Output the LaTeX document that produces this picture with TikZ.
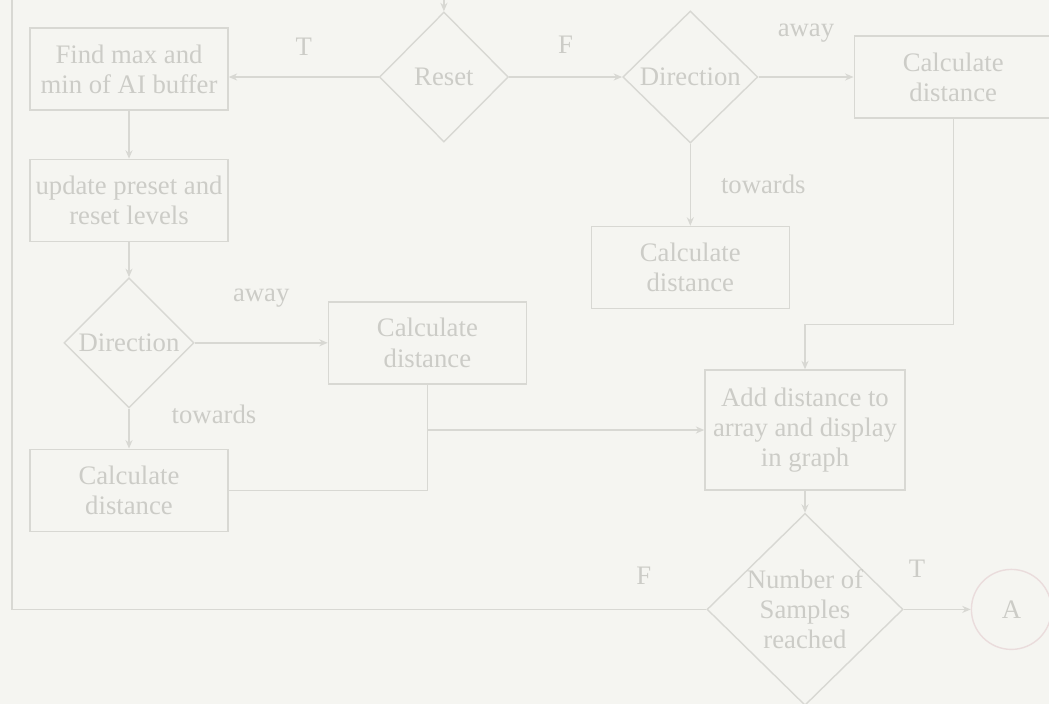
\documentclass[tikz,border=0pt]{standalone}
\usepackage{fontspec}
\setmainfont{Liberation Serif}
\usetikzlibrary{shapes.geometric,arrows.meta,calc,positioning}

\definecolor{paper}{RGB}{245,245,241}
\definecolor{ink}{RGB}{216,216,211}
\definecolor{txt}{RGB}{204,204,199}
\definecolor{ring}{RGB}{234,220,220}

\begin{document}
\begin{tikzpicture}[>={Stealth[length=6pt,width=5pt]}, node distance=1.2cm, align=center,
		every node/.style={font=\fontsize{19}{21.5}\selectfont, text=txt},
		box/.style={draw=ink, line width=1pt, rectangle, minimum width=4.95cm, minimum height=2.05cm, inner sep=1pt},
		choice/.style={draw=ink, line width=1pt, diamond, inner sep=0pt},
		lbl/.style={inner sep=2pt},
		flow/.style={draw=ink, line width=1pt, ->},
		wire/.style={draw=ink, line width=1pt}]
		\fill[paper] (0,0) rectangle (26.225,-17.6);
		\useasboundingbox (0,0) rectangle (26.225,-17.6);

		% left column
		\node[box] (find) at (3.225,-1.725) {Find max and\\min of AI buffer};
		\node[box] [below=1.2cm of find] (update) {update preset and\\reset levels};
		\node[choice, minimum width=3.25cm, minimum height=3.25cm] [below=0.875cm of update] (dirB) {Direction};
		\node[box] [below=1cm of dirB] (calcD) {Calculate\\distance};
		\node[box] [right=3.325cm of dirB] (calcC) {Calculate\\distance};

		% top row
		\node[choice, minimum width=3.225cm, minimum height=3.25cm] [right=3.75cm of find, yshift=-0.2cm] (reset) {Reset};
		\node[choice, minimum width=3.375cm, minimum height=3.3cm] [right=2.825cm of reset] (dirA) {Direction};
		\node[box] [right=2.375cm of dirA] (calcA) {Calculate\\distance};
		\node[box] [below=2.05cm of dirA] (calcB) {Calculate\\distance};

		% output
		\node[box, minimum width=5cm, minimum height=3cm] (add) at (20.125,-10.75) {Add distance to\\array and display\\in graph};
		\node[choice, minimum width=4.9cm, minimum height=4.8cm, label=center:{Number of\\Samples\\reached}] [below=0.55cm of add] (num) {};
		\node[circle, draw=ring, line width=1pt, minimum size=2cm] [right=1.675cm of num] (A) {A};
		\coordinate (top) at (0.3,0.6);

		\path[every edge/.style={flow}]
			(reset.west) edge node[lbl, above=0.45cm] {T} (reset.west -| find.east)
			(reset.east) edge node[lbl, above=0.5cm] {F} (dirA.west)
			(dirA.east) edge node[lbl, above=0.77cm] {away} (calcA.west)
			(dirA.south) edge node[lbl, right=0.68cm] {towards} (calcB.north)
			(find.south) edge (update.north)
			(update.south) edge (dirB.north)
			(dirB.east) edge node[lbl, above=0.8cm] {away} (calcC.west)
			(dirB.south) edge node[lbl, right=0.98cm, yshift=0.35cm] {towards} (calcD.north)
			(add.south) edge (num.north)
			(num.east) edge node[lbl, pos=0.2, above=0.7cm] {T} (A.west);
		\draw[wire] (calcD.east) -| (calcC.south);
		\coordinate (join) at (calcC.south |- add.west);
		\draw[flow] (join) -- (add.west);
		\draw[flow] (calcA.south) -- ++(0,-5.15) -| (add.north);
		\draw[flow] (num.west) -- node[lbl, pos=0.09, above=0.53cm] {F} (num.west -| top) -- (top) -| (reset.north);
	\end{tikzpicture}
\end{document}
